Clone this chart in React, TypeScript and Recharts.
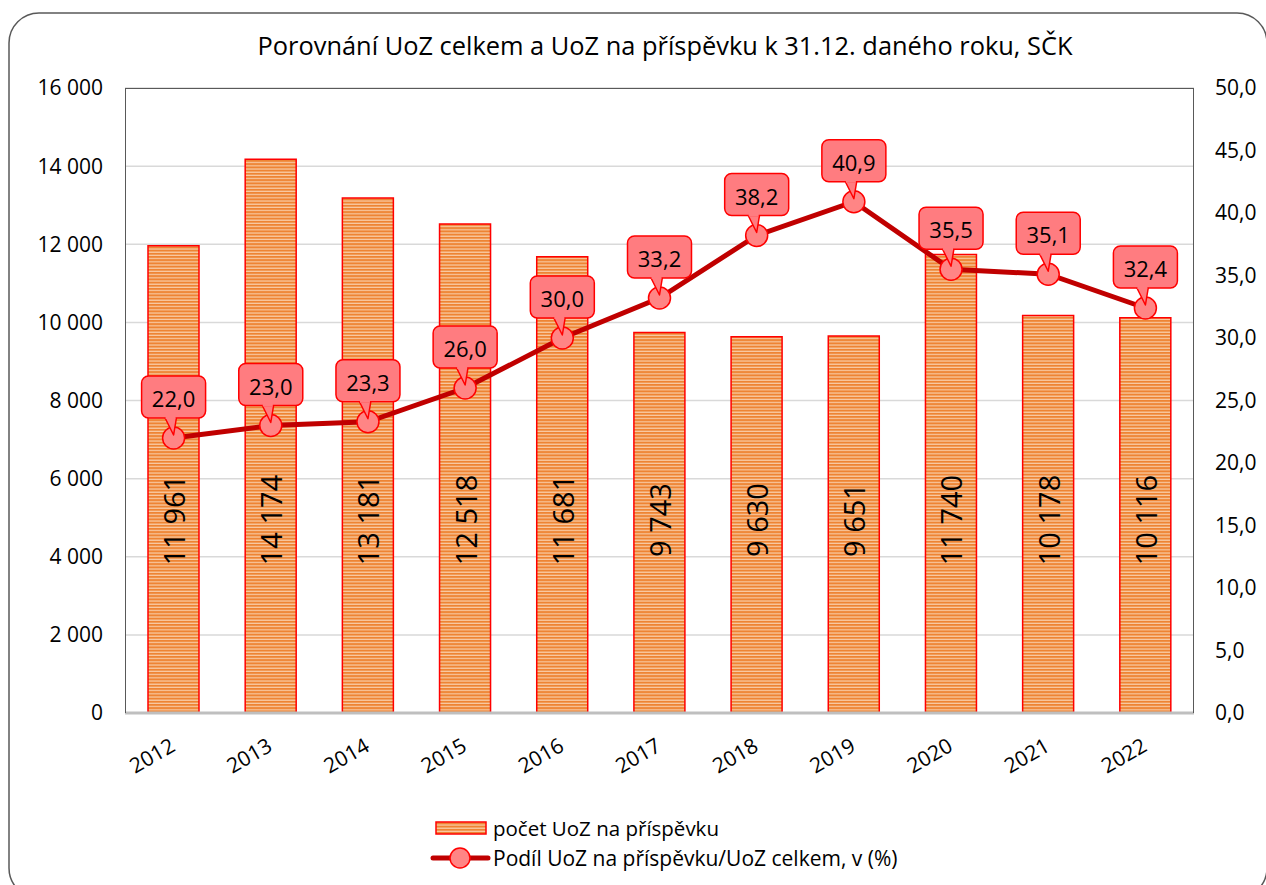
import React from 'react';
import { ComposedChart, Bar, Line, XAxis, YAxis, CartesianGrid, LabelList } from 'recharts';

const years = ['2012', '2013', '2014', '2015', '2016', '2017', '2018', '2019', '2020', '2021', '2022'];
const counts = [11961, 14174, 13181, 12518, 11681, 9743, 9630, 9651, 11740, 10178, 10116];
const shares = [22.0, 23.0, 23.3, 26.0, 30.0, 33.2, 38.2, 40.9, 35.5, 35.1, 32.4];
const leftTicks = [0, 2000, 4000, 6000, 8000, 10000, 12000, 14000, 16000];
const rightTicks = [0, 5, 10, 15, 20, 25, 30, 35, 40, 45, 50];

const title = 'Porovnání UoZ celkem a UoZ na příspěvku k 31.12. daného roku, SČK';
const barName = 'počet UoZ na příspěvku';
const lineName = 'Podíl UoZ na příspěvku/UoZ celkem, v (%)';

const data = years.map((y, i) => ({ year: y, count: counts[i], share: shares[i] }));

const FONT = '"Open Sans", "Noto Sans", sans-serif';

const fmtThousands = (v: number) => String(v).replace(/\B(?=(\d{3})+(?!\d))/g, ' ');
const fmtDec = (v: number) => v.toFixed(1).replace('.', ',');

const XTick = (props: any) => {
  const { x, y, payload } = props;
  return (
    <text
      transform={`translate(${x + 3},${y + 29}) rotate(-30)`}
      textAnchor="end"
      fontSize={21}
      fontFamily={FONT}
      fill="#000"
    >
      {payload.value}
    </text>
  );
};

const BarValueLabel = (props: any) => {
  const vb = props.viewBox || {};
  const x = props.x ?? vb.x;
  const y = props.y ?? vb.y;
  const width = props.width ?? vb.width;
  const height = props.height ?? vb.height;
  const cx = x + width / 2;
  const bottom = y + height;
  const cy = bottom - 193;
  return (
    <text
      x={cx}
      y={cy}
      transform={`rotate(-90, ${cx}, ${cy})`}
      textAnchor="middle"
      dominantBaseline="central"
      fontSize={29}
      fontFamily={FONT}
      fill="#000"
    >
      {fmtThousands(props.value)}
    </text>
  );
};

const Callout = (props: any) => {
  const vb = props.viewBox || {};
  const x = props.x ?? vb.x;
  const y = props.y ?? vb.y;
  const w = 64;
  const h = 42;
  const top = y - 62;
  const bot = top + h;
  return (
    <g>
      <path
        d={`M ${x - 9} ${bot - 1} L ${x} ${y - 3} L ${x + 3} ${bot - 1} Z`}
        fill="#FF7C80"
        stroke="#FF0000"
        strokeWidth={1.5}
        strokeLinejoin="round"
      />
      <rect x={x - w / 2} y={top} width={w} height={h} rx={7} ry={7} fill="#FF7C80" stroke="#FF0000" strokeWidth={1.5} />
      <rect x={x - 8} y={bot - 3} width={10} height={4} fill="#FF7C80" />
      <text
        x={x}
        y={top + h / 2 + 1}
        textAnchor="middle"
        dominantBaseline="central"
        fontSize={22}
        fontFamily={FONT}
        fill="#000"
      >
        {fmtDec(props.value)}
      </text>
    </g>
  );
};

export default function App() {
  return (
    <div
      style={{
        position: 'fixed',
        left: 0,
        top: 0,
        width: 1266,
        height: 885,
        overflow: 'hidden',
        background: '#fff',
        fontFamily: FONT,
      }}
    >
      <svg width={1266} height={885} style={{ position: 'absolute', left: 0, top: 0 }}>
        <defs>
          <pattern id="stripes" patternUnits="userSpaceOnUse" width={8} height={3.2}>
            <rect x={0} y={0} width={8} height={3.2} fill="#F9CDA8" />
            <rect x={0} y={0} width={8} height={2} fill="#EE8433" />
          </pattern>
        </defs>
        <rect x={9} y={13} width={1258} height={885} rx={30} ry={30} fill="#fff" stroke="#595959" strokeWidth={1.5} />
        <text x={665} y={45} textAnchor="middle" dominantBaseline="central" fontSize={25.4} fontFamily={FONT} fill="#000">
          {title}
        </text>
        <rect x={436} y={822} width={50} height={12} fill="url(#stripes)" stroke="#FF0000" strokeWidth={1.5} />
        <text x={493} y={828} dominantBaseline="central" fontSize={20.5} fontFamily={FONT} fill="#000">
          {barName}
        </text>
        <line x1={433} y1={858} x2={488} y2={858} stroke="#C00000" strokeWidth={5} strokeLinecap="round" />
        <circle cx={460} cy={858} r={10} fill="#FF8585" stroke="#FF0000" strokeWidth={1.5} />
        <text x={493} y={858} dominantBaseline="central" fontSize={21} fontFamily={FONT} fill="#000">
          {lineName}
        </text>
      </svg>
      <div style={{ position: 'absolute', left: 0, top: 0 }}>
        <ComposedChart width={1266} height={885} data={data} margin={{ top: 88, right: 0, bottom: 112, left: 0 }} barCategoryGap={0}>
          <CartesianGrid yAxisId="left" vertical={false} stroke="#D9D9D9" strokeWidth={1.5} />
          <XAxis
            dataKey="year"
            height={60}
            tickLine={false}
            axisLine={{ stroke: '#BFBFBF', strokeWidth: 3 }}
            tick={<XTick />}
            interval={0}
          />
          <YAxis
            yAxisId="left"
            width={125}
            domain={[0, 16000]}
            ticks={leftTicks}
            tickFormatter={fmtThousands}
            axisLine={false}
            tickLine={false}
            tickMargin={16}
            tick={{ fill: '#000', fontSize: 21, fontFamily: FONT }}
            interval={0}
          />
          <YAxis
            yAxisId="right"
            orientation="right"
            width={72}
            domain={[0, 50]}
            ticks={rightTicks}
            tickFormatter={fmtDec}
            axisLine={false}
            tickLine={false}
            tickMargin={15}
            tick={{ fill: '#000', fontSize: 21, fontFamily: FONT, textAnchor: 'start' }}
            interval={0}
          />
          <Bar
            yAxisId="left"
            dataKey="count"
            name={barName}
            fill="url(#stripes)"
            stroke="#FF0000"
            strokeWidth={1.5}
            barSize={51}
            isAnimationActive={false}
          >
            <LabelList dataKey="count" content={<BarValueLabel />} />
          </Bar>
          <Line
            yAxisId="right"
            dataKey="share"
            name={lineName}
            stroke="#C00000"
            strokeWidth={5}
            dot={{ r: 11, fill: '#FF8585', stroke: '#FF0000', strokeWidth: 1.5 }}
            activeDot={false}
            isAnimationActive={false}
          >
            <LabelList dataKey="share" content={<Callout />} />
          </Line>
        </ComposedChart>
      </div>
      <div
        style={{
          position: 'absolute',
          left: 125,
          top: 88,
          width: 1069,
          height: 625,
          boxSizing: 'border-box',
          borderTop: '1.5px solid #595959',
          borderLeft: '1.5px solid #595959',
          borderRight: '1.5px solid #595959',
          pointerEvents: 'none',
        }}
      />
    </div>
  );
}
